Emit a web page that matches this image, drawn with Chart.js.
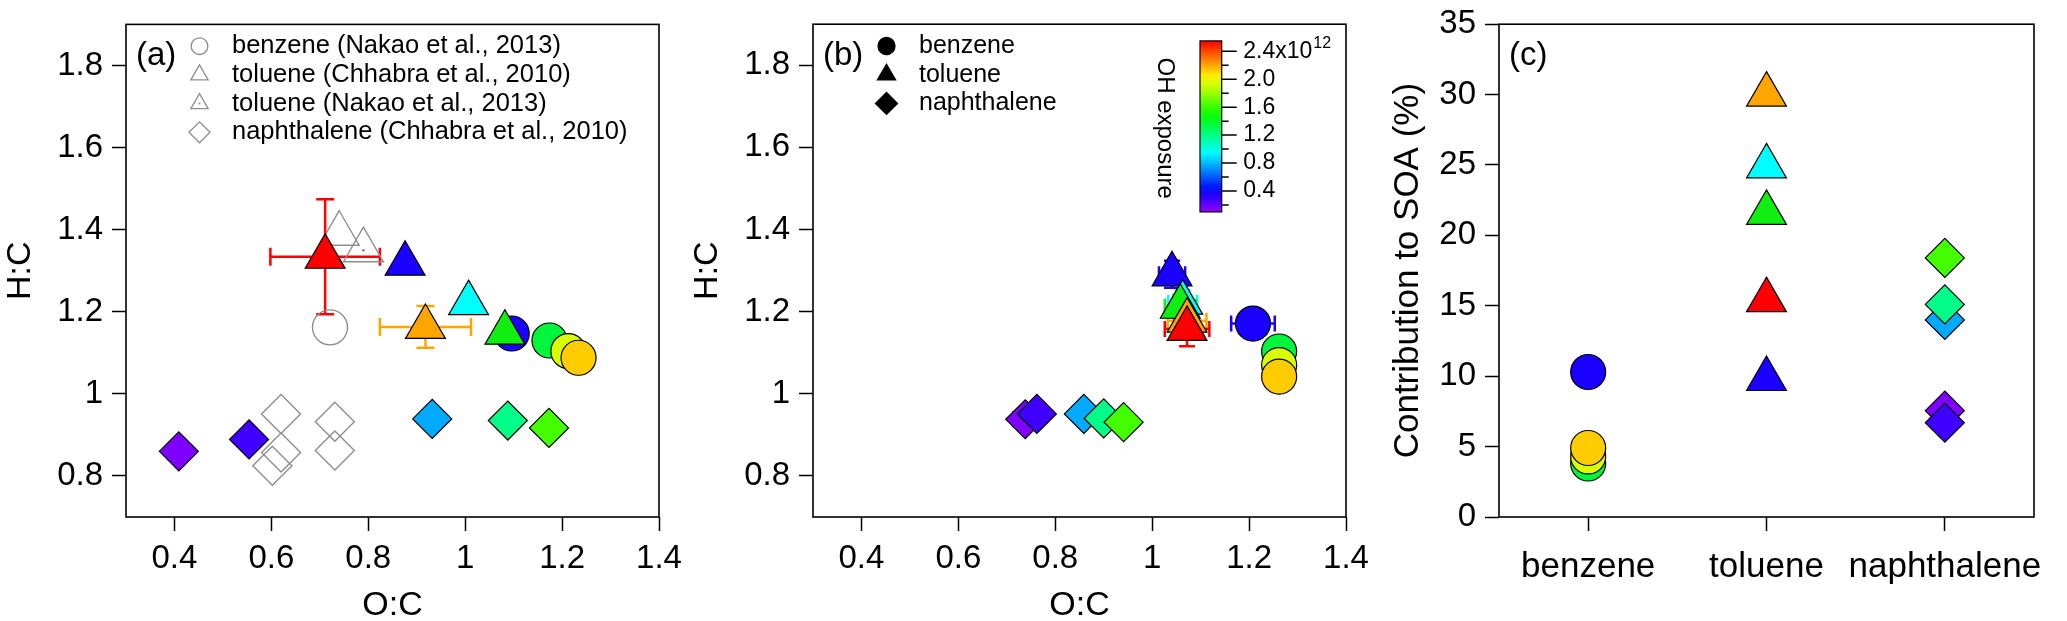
<!DOCTYPE html>
<html>
<head>
<meta charset="utf-8">
<script src="https://cdn.jsdelivr.net/npm/chart.js@4.4.1/dist/chart.umd.min.js"></script>
<style>
  body { margin: 0; background: #fff; }
  #wrap { position: relative; width: 2067px; height: 621px; }
  .panel { position: absolute; top: 0; height: 621px; }
</style>
</head>
<body>
<div id="wrap">
  <div class="panel" style="left:0;width:690px"><canvas id="chartA"></canvas></div>
  <div class="panel" style="left:690px;width:690px"><canvas id="chartB"></canvas></div>
  <div class="panel" style="left:1380px;width:687px"><canvas id="chartC"></canvas></div>
</div>
<script>
// ---------- data ----------
const compounds = ['benzene', 'toluene', 'naphthalene'];

// one colour per experiment (OH exposure), same order in all panels
const benzeneColors = ['#1A00FF', '#00F53D', '#D9FF00', '#FFCC00'];
const tolueneColors = ['#1A00FF', '#00FFFF', '#11EE11', '#FFA500', '#FF0000'];
const naphColors = ['#8000FF', '#4000FF', '#00AAFF', '#00FF88', '#44FF00'];

// panel (a)
const benzeneOC_a = [1.096, 1.174, 1.213, 1.234];
const benzeneHC_a = [1.147, 1.130, 1.104, 1.088];
const tolueneOC_a = [0.876, 1.007, 1.082, 0.918, 0.711];
const tolueneHC_a = [1.317, 1.221, 1.149, 1.163, 1.334];
const tolueneOCerr_a = [0, 0, 0, 0.094, 0.113];
const tolueneHCerr_a = [0, 0, 0, 0.051, 0.140];
const naphOC_a = [0.409, 0.554, 0.932, 1.088, 1.173];
const naphHC_a = [0.860, 0.889, 0.939, 0.935, 0.917];

// literature points in panel (a)
const benzeneNakaoOC = [0.721];
const benzeneNakaoHC = [1.162];
const tolueneChhabraOC = [0.740];
const tolueneChhabraHC = [1.390];
const tolueneNakaoOC = [0.790];
const tolueneNakaoHC = [1.350];
const naphChhabraOC = [0.620, 0.731, 0.620, 0.731, 0.602];
const naphChhabraHC = [0.951, 0.932, 0.857, 0.862, 0.825];

// panel (b)
const benzeneOC_b = [1.208, 1.262, 1.262, 1.262];
const benzeneHC_b = [1.171, 1.103, 1.070, 1.042];
const benzeneOCerr_b = [0.045, 0.01, 0.01, 0.01];
const benzeneHCerr_b = [0.035, 0.01, 0.01, 0.01];
const tolueneOC_b = [1.041, 1.063, 1.058, 1.072, 1.072];
const tolueneHC_b = [1.291, 1.222, 1.212, 1.178, 1.158];
const tolueneOCerr_b = [0.027, 0.03, 0.032, 0.04, 0.046];
const tolueneHCerr_b = [0.033, 0.03, 0.03, 0.035, 0.042];
const naphOC_b = [0.738, 0.762, 0.859, 0.900, 0.941];
const naphHC_b = [0.938, 0.951, 0.951, 0.940, 0.931];
const naphOCerr_b = [0.025, 0.02, 0.02, 0.02, 0.02];
const naphHCerr_b = [0.025, 0.02, 0.02, 0.02, 0.02];

// panel (c): contribution to SOA (%)
const benzeneSOA = [10.3, 3.8, 4.3, 4.9];
const tolueneSOA = [9.8, 24.9, 21.6, 30.0, 15.4];
const naphSOA = [7.55, 6.7, 14.0, 15.1, 18.4];

// axes
const ocRange = [0.3, 1.4];
const ocTicks = [0.4, 0.6, 0.8, 1, 1.2, 1.4];
const ocTickLabels = ['0.4', '0.6', '0.8', '1', '1.2', '1.4'];
const hcRange = [0.7, 1.9];
const hcTicks = [0.8, 1, 1.2, 1.4, 1.6, 1.8];
const hcTickLabels = ['0.8', '1', '1.2', '1.4', '1.6', '1.8'];
const soaRange = [0, 35];
const soaTicks = [0, 5, 10, 15, 20, 25, 30, 35];
const soaTickLabels = ['0', '5', '10', '15', '20', '25', '30', '35'];

// OH exposure colour bar (x10^12)
const ohRange = [0.1, 2.55];
const ohTicks = [0.4, 0.8, 1.2, 1.6, 2.0, 2.4];
const ohTickLabels = ['0.4', '0.8', '1.2', '1.6', '2.0', '2.4x10'];
const ohMinorTicks = [0.2, 0.6, 1.0, 1.4, 1.8, 2.2];
const ohExponent = '12';

// ---------- drawing ----------
const FONT = "'Liberation Sans', Arial, Helvetica, sans-serif";
Chart.defaults.font.family = FONT;
Chart.defaults.color = '#000';

const GRAY = '#8E8E8E';

function drawMarker(ctx, style, x, y, r) {
  ctx.beginPath();
  if (style === 'circle') {
    ctx.arc(x, y, r, 0, Math.PI * 2);
  } else if (style === 'triangle') {
    ctx.moveTo(x, y - r);
    ctx.lineTo(x + r * 0.866, y + r * 0.5);
    ctx.lineTo(x - r * 0.866, y + r * 0.5);
  } else {
    ctx.moveTo(x - r, y);
    ctx.lineTo(x, y - r);
    ctx.lineTo(x + r, y);
    ctx.lineTo(x, y + r);
  }
  ctx.closePath();
}

// frame, error bars, panel letter, inset legend and colour bar
function makeDecor(cfg) {
  return {
    id: 'panelDecor',
    beforeDatasetsDraw(chart) {
      const ctx = chart.ctx;
      const xs = chart.scales.x, ys = chart.scales.y;
      ctx.save();
      ctx.lineWidth = 2.5;
      chart.data.datasets.forEach(ds => {
        if (!ds.errX && !ds.errY) return;
        ds.data.forEach((p, i) => {
          const px = xs.getPixelForValue(p.x), py = ys.getPixelForValue(p.y);
          const ex = ds.errX ? ds.errX[i] : 0, ey = ds.errY ? ds.errY[i] : 0;
          const cap = cfg.cap;
          ctx.strokeStyle = ds.pointBackgroundColor[i];
          ctx.beginPath();
          if (ex > 0) {
            const x0 = xs.getPixelForValue(p.x - ex), x1 = xs.getPixelForValue(p.x + ex);
            ctx.moveTo(x0, py); ctx.lineTo(x1, py);
            ctx.moveTo(x0, py - cap); ctx.lineTo(x0, py + cap);
            ctx.moveTo(x1, py - cap); ctx.lineTo(x1, py + cap);
          }
          if (ey > 0) {
            const y0 = ys.getPixelForValue(p.y - ey), y1 = ys.getPixelForValue(p.y + ey);
            ctx.moveTo(px, y0); ctx.lineTo(px, y1);
            ctx.moveTo(px - cap, y0); ctx.lineTo(px + cap, y0);
            ctx.moveTo(px - cap, y1); ctx.lineTo(px + cap, y1);
          }
          ctx.stroke();
        });
      });
      ctx.restore();
    },
    afterDatasetsDraw(chart) {
      const ctx = chart.ctx;
      const a = chart.chartArea;
      ctx.save();
      ctx.strokeStyle = '#000';
      ctx.lineWidth = 1.6;
      ctx.strokeRect(a.left, a.top, a.right - a.left, a.bottom - a.top);

      ctx.fillStyle = '#000';
      ctx.font = '33px ' + FONT;
      ctx.textBaseline = 'middle';
      ctx.textAlign = 'left';
      ctx.fillText(cfg.letter, a.left + 10, a.top + 31.5);

      if (cfg.legend) {
        const lg = cfg.legend;
        lg.items.forEach((it, i) => {
          const y = a.top + lg.y0 + i * lg.dy;
          const x = a.left + lg.x;
          ctx.lineWidth = 1.3;
          ctx.strokeStyle = it.stroke;
          drawMarker(ctx, it.style, x, y, it.r);
          if (it.fill) { ctx.fillStyle = it.fill; ctx.fill(); }
          ctx.stroke();
          if (it.dot) {
            ctx.fillStyle = it.stroke;
            ctx.beginPath(); ctx.arc(x, y, 1, 0, Math.PI * 2); ctx.fill();
          }
          ctx.fillStyle = '#000';
          ctx.font = lg.size + 'px ' + FONT;
          ctx.textBaseline = 'middle';
          ctx.fillText(it.label, a.left + lg.textX, y);
        });
      }

      if (cfg.colorbar) {
        const cb = cfg.colorbar;
        const left = a.left + cb.dx, top = a.top + cb.dy, w = cb.w, h = cb.h;
        const grad = ctx.createLinearGradient(0, top, 0, top + h);
        for (let k = 0; k <= 20; k++) {
          grad.addColorStop(k / 20, 'hsl(' + (k / 20 * 275) + ',100%,50%)');
        }
        ctx.fillStyle = grad;
        ctx.fillRect(left, top, w, h);
        ctx.strokeStyle = '#000';
        ctx.lineWidth = 1.2;
        ctx.strokeRect(left, top, w, h);
        const yOf = v => top + (ohRange[1] - v) / (ohRange[1] - ohRange[0]) * h;
        const right = left + w;
        ctx.lineWidth = 1.5;
        ctx.beginPath();
        ohTicks.forEach(v => { ctx.moveTo(right, yOf(v)); ctx.lineTo(right + 15, yOf(v)); });
        ohMinorTicks.forEach(v => { ctx.moveTo(right, yOf(v)); ctx.lineTo(right + 7, yOf(v)); });
        ctx.stroke();
        ctx.fillStyle = '#000';
        ctx.textBaseline = 'middle';
        ohTicks.forEach((v, i) => {
          ctx.font = '23px ' + FONT;
          const lbl = ohTickLabels[i];
          ctx.fillText(lbl, right + 21.5, yOf(v));
          if (i === ohTicks.length - 1) {
            const wd = ctx.measureText(lbl).width;
            ctx.font = '16px ' + FONT;
            ctx.fillText(ohExponent, right + 22.5 + wd, yOf(v) - 8);
          }
        });
        ctx.save();
        ctx.translate(a.left + cb.titleDx, a.top + cb.titleDy);
        ctx.rotate(Math.PI / 2);
        ctx.font = '24px ' + FONT;
        ctx.textAlign = 'center';
        ctx.textBaseline = 'middle';
        ctx.fillText('OH exposure', 0, 0);
        ctx.restore();
      }
      ctx.restore();
    }
  };
}

function linearAxis(range, ticks, labels, extra) {
  return Object.assign({
    type: 'linear',
    min: range[0],
    max: range[1],
    afterBuildTicks: s => { s.ticks = ticks.map(v => ({ value: v })); },
    ticks: { callback: (v, i) => labels[i], font: { size: 33 }, color: '#000', padding: 9, maxRotation: 0, autoSkip: false },
    grid: { drawOnChartArea: false, drawTicks: true, tickLength: 14, tickColor: '#000', tickWidth: 1.5 },
    border: { display: false }
  }, extra);
}

function xAxisOC() {
  const ax = linearAxis(ocRange, ocTicks, ocTickLabels, {
    position: 'bottom',
    title: { display: true, text: 'O:C', color: '#000', font: { size: 34, lineHeight: 1 }, padding: { top: 0, bottom: -2 } },
    afterFit: s => { s.height = 104; s.paddingLeft = 0; s.paddingRight = 0; }
  });
  ax.ticks.padding = 8;
  return ax;
}

function yAxisHC(width, titlePad) {
  return linearAxis(hcRange, hcTicks, hcTickLabels, {
    position: 'left',
    title: { display: true, text: 'H:C', color: '#000', font: { size: 34, lineHeight: 1 }, padding: { top: titlePad, bottom: 0 } },
    afterFit: s => { s.width = width; s.paddingTop = 0; s.paddingBottom = 0; }
  });
}

function markerSet(xs, ys, style, radius, colors, order, errX, errY) {
  return {
    data: xs.map((x, i) => ({ x: x, y: ys[i] })),
    pointStyle: style,
    pointRadius: radius,
    pointHoverRadius: radius,
    pointBackgroundColor: colors,
    pointBorderColor: '#000',
    pointBorderWidth: 1.2,
    showLine: false,
    clip: false,
    order: order,
    errX: errX,
    errY: errY
  };
}

function openSet(xs, ys, style, radius, order) {
  return {
    data: xs.map((x, i) => ({ x: x, y: ys[i] })),
    pointStyle: style,
    pointRadius: radius,
    pointHoverRadius: radius,
    pointBackgroundColor: 'rgba(0,0,0,0)',
    pointBorderColor: GRAY,
    pointBorderWidth: 1.4,
    showLine: false,
    clip: false,
    order: order
  };
}

function baseOptions(padRight, scales) {
  return {
    responsive: true,
    maintainAspectRatio: false,
    animation: false,
    events: [],
    layout: { padding: { top: 15, right: padRight, left: 0, bottom: 0 } },
    plugins: { legend: { display: false }, tooltip: { enabled: false } },
    scales: scales
  };
}

const R_CIRCLE = 17.5, R_TRI = 23, R_DIA = 19.5;

// ---- panel (a)
new Chart(document.getElementById('chartA'), {
  type: 'scatter',
  data: {
    datasets: [
      openSet(naphChhabraOC, naphChhabraHC, 'rectRot', R_DIA, 20),
      openSet(benzeneNakaoOC, benzeneNakaoHC, 'circle', R_CIRCLE, 19),
      openSet(tolueneChhabraOC, tolueneChhabraHC, 'triangle', R_TRI, 18),
      openSet(tolueneNakaoOC, tolueneNakaoHC, 'triangle', R_TRI, 17),
      Object.assign(openSet(tolueneNakaoOC, tolueneNakaoHC, 'circle', 1.2, 16), { pointBackgroundColor: '#777', pointBorderWidth: 0 }),
      markerSet(benzeneOC_a, benzeneHC_a, 'circle', R_CIRCLE, benzeneColors, 5),
      markerSet(naphOC_a, naphHC_a, 'rectRot', R_DIA, naphColors, 4),
      markerSet(tolueneOC_a, tolueneHC_a, 'triangle', R_TRI, tolueneColors, 3, tolueneOCerr_a, tolueneHCerr_a)
    ]
  },
  options: baseOptions(31, { x: xAxisOC(), y: yAxisHC(126, 4) }),
  plugins: [makeDecor({
    letter: '(a)',
    cap: 9,
    legend: {
      x: 73.5, textX: 106, y0: 21.8, dy: 28.7, size: 25.5,
      items: [
        { style: 'circle', r: 8.3, stroke: GRAY, label: 'benzene (Nakao et al., 2013)' },
        { style: 'triangle', r: 10, stroke: GRAY, label: 'toluene (Chhabra et al., 2010)' },
        { style: 'triangle', r: 10, stroke: GRAY, dot: true, label: 'toluene (Nakao et al., 2013)' },
        { style: 'rectRot', r: 10.5, stroke: GRAY, label: 'naphthalene (Chhabra et al., 2010)' }
      ]
    }
  })]
});

// ---- panel (b)
new Chart(document.getElementById('chartB'), {
  type: 'scatter',
  data: {
    datasets: [
      markerSet(benzeneOC_b, benzeneHC_b, 'circle', R_CIRCLE, benzeneColors, 5, benzeneOCerr_b, benzeneHCerr_b),
      markerSet(naphOC_b, naphHC_b, 'rectRot', R_DIA, naphColors, 4, naphOCerr_b, naphHCerr_b),
      markerSet(tolueneOC_b, tolueneHC_b, 'triangle', R_TRI, tolueneColors, 3, tolueneOCerr_b, tolueneHCerr_b)
    ]
  },
  options: baseOptions(34, { x: xAxisOC(), y: yAxisHC(123, 1) }),
  plugins: [makeDecor({
    letter: '(b)',
    cap: 8,
    legend: {
      x: 73.5, textX: 106, y0: 21.8, dy: 28.7, size: 25,
      items: [
        { style: 'circle', r: 8.5, fill: '#000', stroke: '#000', label: compounds[0] },
        { style: 'triangle', r: 10.5, fill: '#000', stroke: '#000', label: compounds[1] },
        { style: 'rectRot', r: 11, fill: '#000', stroke: '#000', label: compounds[2] }
      ]
    },
    colorbar: { dx: 387, dy: 16.7, w: 21.7, h: 171, titleDx: 352, titleDy: 104 }
  })]
});

// ---- panel (c)
const catPoints = (name, vals) => vals.map(v => name);
new Chart(document.getElementById('chartC'), {
  type: 'scatter',
  data: {
    datasets: [
      markerSet(catPoints(compounds[0], benzeneSOA), benzeneSOA, 'circle', R_CIRCLE, benzeneColors, 5),
      markerSet(catPoints(compounds[1], tolueneSOA), tolueneSOA, 'triangle', R_TRI, tolueneColors, 4),
      markerSet(catPoints(compounds[2], naphSOA), naphSOA, 'rectRot', R_DIA, naphColors, 3)
    ]
  },
  options: baseOptions(33, {
    x: {
      type: 'category',
      labels: compounds,
      offset: true,
      position: 'bottom',
      ticks: { font: { size: 35 }, color: '#000', padding: 15, maxRotation: 0, autoSkip: false },
      grid: { offset: false, drawOnChartArea: false, drawTicks: true, tickLength: 14, tickColor: '#000', tickWidth: 1.5 },
      border: { display: false },
      afterFit: s => { s.height = 104; s.paddingLeft = 0; s.paddingRight = 0; }
    },
    y: linearAxis(soaRange, soaTicks, soaTickLabels, {
      position: 'left',
      title: { display: true, text: 'Contribution to SOA (%)', color: '#000', font: { size: 35, lineHeight: 1 }, padding: { top: 11, bottom: 0 } },
      afterFit: s => { s.width = 119; s.paddingTop = 0; s.paddingBottom = 0; }
    })
  }),
  plugins: [makeDecor({ letter: '(c)', cap: 8 })]
});
</script>
</body>
</html>
